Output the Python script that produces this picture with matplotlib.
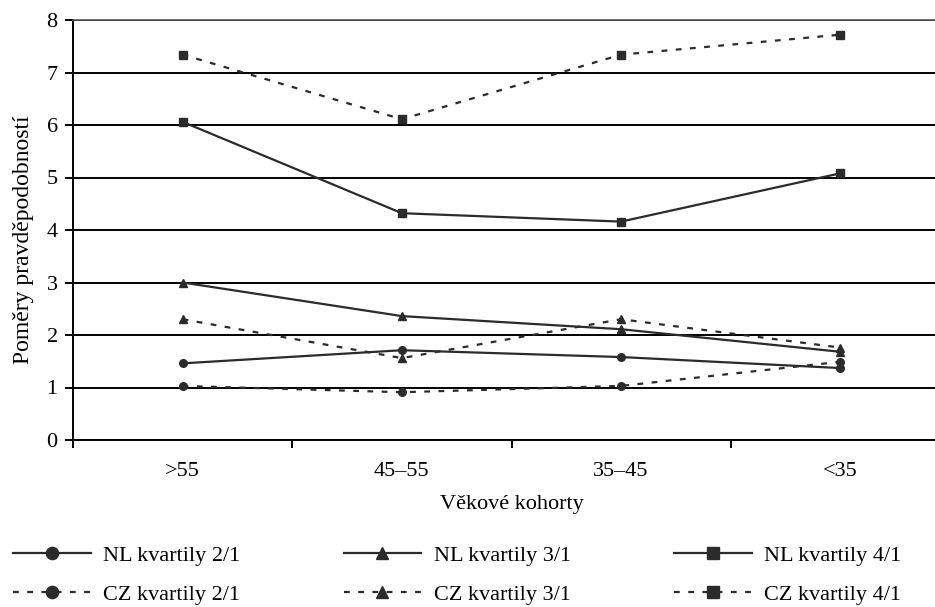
import matplotlib
matplotlib.use('Agg')
import matplotlib.pyplot as plt
from matplotlib.ticker import FixedLocator

plt.rcParams['font.family'] = ['Liberation Serif', 'DejaVu Serif']

# data
cohorts = ['>55', '45\u201355', '35\u201345', '<35']
nl_2_1 = [1.46, 1.71, 1.58, 1.37]
nl_3_1 = [3.00, 2.36, 2.11, 1.68]
nl_4_1 = [6.06, 4.32, 4.16, 5.08]
cz_2_1 = [1.03, 0.91, 1.03, 1.49]
cz_3_1 = [2.30, 1.56, 2.30, 1.76]
cz_4_1 = [7.34, 6.11, 7.34, 7.72]

W, H = 935, 607
fig = plt.figure(figsize=(W/100, H/100), dpi=100)
# right edge of the axes falls outside the picture, as in the reference
ax = fig.add_axes([73/W, 1-440/H, (950-73)/W, 420/H])

col = '#2b2b2b'
fs = 16
x = range(len(cohorts))
solid = dict(color=col, lw=1.6, ls='-', markersize=5.5)
dash = dict(color=col, lw=1.6, ls=(0, (2.6, 3.8)), markersize=5.5)

h_nl2, = ax.plot(x, nl_2_1, marker='o', label='NL kvartily 2/1', **solid)
h_nl3, = ax.plot(x, nl_3_1, marker='^', label='NL kvartily 3/1', **solid)
h_nl4, = ax.plot(x, nl_4_1, marker='s', label='NL kvartily 4/1', **solid)
h_cz2, = ax.plot(x, cz_2_1, marker='o', label='CZ kvartily 2/1', **dash)
h_cz3, = ax.plot(x, cz_3_1, marker='^', label='CZ kvartily 3/1', **dash)
h_cz4, = ax.plot(x, cz_4_1, marker='s', label='CZ kvartily 4/1', **dash)

ax.set_xlim(-0.5, 3.5)
ax.set_ylim(0, 8)
ax.set_yticks(range(0, 9))
ax.yaxis.grid(True, color='black', lw=1.4)
ax.set_axisbelow(True)

ax.set_xticks(list(x))
ax.set_xticklabels(cohorts)
ax.xaxis.set_minor_locator(FixedLocator([-0.5, 0.5, 1.5, 2.5, 3.5]))
ax.tick_params(axis='x', which='major', length=0, pad=16, labelsize=fs)
ax.tick_params(axis='x', which='minor', length=6, width=1.4, direction='out')
ax.tick_params(axis='y', length=6, width=1.4, direction='out', labelsize=fs, pad=5)

for s in ['left', 'bottom']:
    ax.spines[s].set_linewidth(1.4)
ax.spines['top'].set_linewidth(1.2)
ax.spines['top'].set_color('#555555')
ax.spines['right'].set_visible(False)

ax.set_xlabel('V\u011bkov\u00e9 kohorty', fontsize=fs, labelpad=10)
ax.set_ylabel('Pom\u011bry pravd\u011bpodobnost\u00ed', fontsize=17)
ax.yaxis.set_label_coords(-0.045, 0.476)

handles = [h_nl2, h_cz2, h_nl3, h_cz3, h_nl4, h_cz4]
fig.legend(handles=handles, labels=[h.get_label() for h in handles],
           ncol=3, loc='center left', bbox_to_anchor=(13/W, 1-575/H),
           frameon=False, fontsize=fs, handlelength=3.5, handletextpad=0.55,
           columnspacing=4.65, labelspacing=0.85, borderpad=0, borderaxespad=0,
           markerscale=1.6)

fig.savefig('out.png', dpi=100)
